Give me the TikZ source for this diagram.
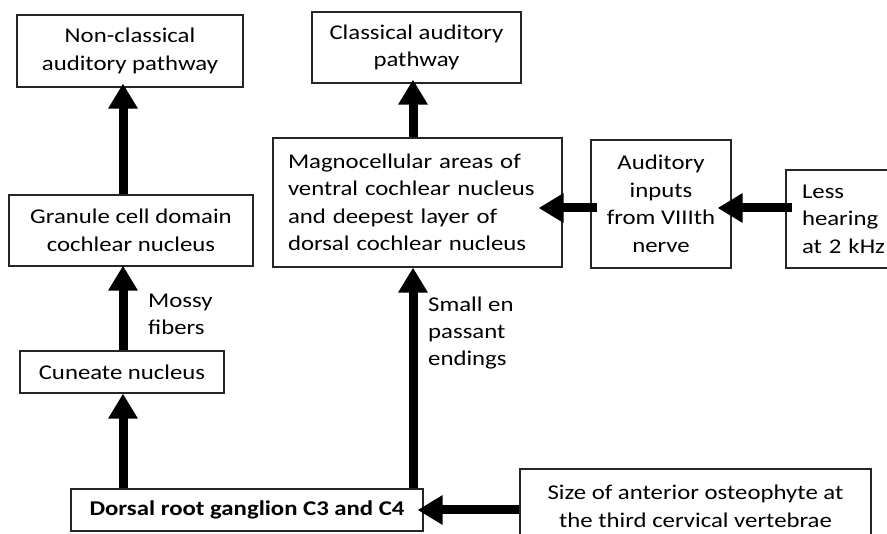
\documentclass[tikz,border=0pt]{standalone}
\usepackage{fontspec}
\setmainfont{Carlito}[FakeStretch=1.18]
\usetikzlibrary{arrows.meta}
\begin{document}
\begin{tikzpicture}[x=1pt,y=-1pt,
  box/.style={draw=black!85,line width=1.2pt,inner sep=0pt,font=\fontsize{21}{27.5}\selectfont},
  lbl/.style={inner sep=0pt,align=left,font=\fontsize{21}{27}\selectfont},
  arr/.style={line width=9pt,-{Triangle[width=28pt,length=25pt]}}]
\useasboundingbox (0,0) rectangle (887,534);
\clip (0,0) rectangle (887,534);
\node[box,minimum width=226pt,minimum height=72pt,align=center] (nc) at (130,51) {Non-classical\\auditory pathway};
\node[box,minimum width=244pt,minimum height=71pt,align=center] (gr) at (131,230.5) {Granule cell domain\\cochlear nucleus};
\node[box,minimum width=204pt,minimum height=42pt] (cu) at (122,372) {Cuneate nucleus};
\node[box,minimum width=352pt,minimum height=42pt,font=\fontsize{21}{27.5}\selectfont\bfseries] (dr) at (247,510) {Dorsal root ganglion C3 and C4};
\node[box,minimum width=209pt,minimum height=71pt,align=center] (cl) at (416.5,47.5) {Classical auditory\\pathway};
\node[box,minimum width=289pt,minimum height=129pt,align=left,text width=259pt] (mg) at (417.5,202.5) {Magnocellular areas of\\ventral cochlear nucleus\\and deepest layer of\\dorsal cochlear nucleus};
\node[box,minimum width=140pt,minimum height=128pt,align=center] (ai) at (661,204) {Auditory\\inputs\\from VIIIth\\nerve};
\node[box,minimum width=120pt,minimum height=98pt,align=left,text width=88pt] (lh) at (846,219) {Less\\hearing\\at 2 kHz};
\node[box,minimum width=351pt,minimum height=75pt,align=center] (sz) at (695.5,506.5) {Size of anterior osteophyte at\\the third cervical vertebrae};
\node[lbl,anchor=west] (mf) at (148,314) {Mossy\\fibers};
\node[lbl,anchor=west] (sp) at (428,333) {Small en\\passant\\endings};
\coordinate (colA) at (123,0);
\coordinate (colB) at (413,0);
\coordinate (rowA) at (0,208);
\coordinate (rowB) at (0,510);
\draw[arr,shorten >=-4pt] (gr.north -| colA) -- (nc.south -| colA);
\draw[arr,shorten >=-1pt] (cu.north -| colA) -- (gr.south -| colA);
\draw[arr] (dr.north -| colA) -- (cu.south -| colA);
\draw[arr,shorten >=-4pt] (mg.north -| colB) -- (cl.south -| colB);
\draw[arr] (dr.north -| colB) -- (mg.south -| colB);
\draw[arr,shorten <=-7pt,shorten >=-24pt] (ai.west |- rowA) -- (mg.east |- rowA);
\draw[arr,shorten <=-7pt,shorten >=-14pt] (lh.west |- rowA) -- (ai.east |- rowA);
\draw[arr,shorten >=-6pt] (sz.west |- rowB) -- (dr.east |- rowB);
\end{tikzpicture}
\end{document}
